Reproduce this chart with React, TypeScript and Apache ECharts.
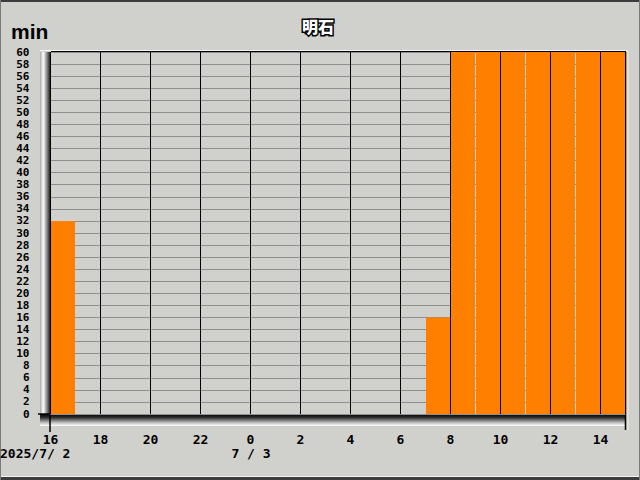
import React, { useEffect, useRef } from "react";
import * as echarts from "echarts";

// hours shown on the axis, starting at 16:00 on 2025/7/2
const hours: number[] = [16, 17, 18, 19, 20, 21, 22, 23, 0, 1, 2, 3, 4, 5, 6, 7, 8, 9, 10, 11, 12, 13, 14];
// minutes per hour
const minutes: number[] = [32, 0, 0, 0, 0, 0, 0, 0, 0, 0, 0, 0, 0, 0, 0, 16, 60, 60, 60, 60, 60, 60, 60];
const title = "明石";
const unit = "min";
const startDate = "2025/7/ 2";
const nextDate = "7 / 3";

const BG = "#d0d0cc";
const MONO = "'DejaVu Sans Mono', 'Liberation Mono', monospace";

export default function App() {
  const ref = useRef<HTMLDivElement>(null);
  useEffect(() => {
    document.body.style.margin = "0";
    const chart = echarts.init(ref.current!, null, { renderer: "svg" });
    const L = 50.5, R = 625.5, T = 52, B = 414;
    chart.setOption({
      animation: false,
      backgroundColor: BG,
      grid: { left: L, right: 640 - R, top: T, bottom: 480 - B, containLabel: false },
      xAxis: [
        {
          type: "category",
          data: hours.map(String),
          boundaryGap: true,
          axisLine: { show: false },
          axisTick: { show: false },
          axisLabel: { show: false },
          splitLine: { show: false },
        },
        {
          type: "value",
          position: "bottom",
          min: 0,
          max: hours.length,
          interval: 2,
          z: 4,
          axisLine: { show: false },
          axisTick: { show: false },
          axisLabel: {
            showMaxLabel: false,
            margin: 19,
            color: "#000",
            fontFamily: MONO,
            fontWeight: "bold",
            fontSize: 13,
            formatter: (v: number) => (Number.isInteger(v) && v < hours.length ? String(hours[v]) : ""),
          },
          splitLine: { show: true, lineStyle: { color: "#000", width: 1 } },
        },
      ],
      yAxis: {
        type: "value",
        min: 0,
        max: 60,
        interval: 2,
        axisLine: { show: false },
        axisTick: { show: false },
        axisLabel: {
          showMinLabel: true,
          showMaxLabel: true,
          hideOverlap: false,
          margin: 21,
          color: "#000",
          fontFamily: MONO,
          fontWeight: "bold",
          fontSize: 11,
          lineHeight: 11,
        },
        splitLine: { show: true, lineStyle: { color: "#8e8e8e", width: 1 } },
      },
      series: [
        {
          type: "bar",
          xAxisIndex: 0,
          data: minutes,
          barWidth: 24,
          itemStyle: { color: "#ff8000" },
        },
      ],
      graphic: [
        // outer frame
        { type: "rect", shape: { x: 0, y: 0, width: 640, height: 2 }, style: { fill: "#3c3c3c" }, silent: true },
        { type: "rect", shape: { x: 0, y: 476, width: 640, height: 1 }, style: { fill: "#f4f4f4" }, silent: true },
        { type: "rect", shape: { x: 0, y: 477, width: 640, height: 3 }, style: { fill: "#3c3c3c" }, silent: true },
        { type: "rect", shape: { x: 0, y: 0, width: 1, height: 480 }, style: { fill: "#7a7a7a" }, silent: true },
        { type: "rect", shape: { x: 639, y: 0, width: 1, height: 480 }, style: { fill: "#7a7a7a" }, silent: true },
        // left wall
        {
          type: "rect",
          shape: { x: 40, y: T, width: 11, height: B - T + 10 },
          style: {
            fill: new echarts.graphic.LinearGradient(0, 0, 1, 0, [
              { offset: 0, color: "#a8a8a8" },
              { offset: 0.3, color: "#ffffff" },
              { offset: 0.7, color: "#707070" },
              { offset: 1, color: "#000000" },
            ]),
          },
          silent: true,
        },
        // floor
        {
          type: "rect",
          shape: { x: 40, y: B, width: 586, height: 12 },
          style: {
            fill: new echarts.graphic.LinearGradient(0, 0, 0, 1, [
              { offset: 0, color: "#000000" },
              { offset: 0.3, color: "#303030" },
              { offset: 0.75, color: "#c8c8c8" },
              { offset: 1, color: "#ffffff" },
            ]),
          },
          silent: true,
        },
        // top highlight and border
        { type: "line", shape: { x1: 40, y1: 50.5, x2: 628, y2: 50.5 }, style: { stroke: "#f4f4f4", lineWidth: 1 }, silent: true },
        { type: "line", shape: { x1: 51, y1: 52, x2: 626, y2: 52 }, style: { stroke: "#000", lineWidth: 2 }, silent: true },
        // right border and highlight
        { type: "line", shape: { x1: 625.5, y1: 52, x2: 625.5, y2: 430 }, style: { stroke: "#000", lineWidth: 1.5 }, silent: true },
        { type: "line", shape: { x1: 628, y1: 51, x2: 628, y2: 430 }, style: { stroke: "#f0f0f0", lineWidth: 1 }, silent: true },
        // origin ticks
        { type: "line", shape: { x1: 38, y1: B, x2: 51, y2: B }, style: { stroke: "#000", lineWidth: 1.5 }, silent: true },
        { type: "line", shape: { x1: 50, y1: B, x2: 50, y2: 432 }, style: { stroke: "#000", lineWidth: 1.5 }, silent: true },
        // title and unit
        {
          type: "text",
          x: 318,
          y: 26,
          style: {
            text: title,
            fill: "#ffffff",
            font: "900 16px 'Noto Sans CJK JP', sans-serif",
            align: "center",
            verticalAlign: "middle",
            stroke: "#000",
            lineWidth: 3,
            shadowColor: "#000",
            shadowOffsetX: 1,
            shadowOffsetY: 1,
          },
          silent: true,
        },
        {
          type: "text",
          x: 11,
          y: 31,
          style: {
            text: unit,
            fill: "#000",
            font: "bold 21px 'Liberation Sans', Arial, sans-serif",
            align: "left",
            verticalAlign: "middle",
          },
          silent: true,
        },
        // dates
        {
          type: "text",
          x: 0,
          y: 453,
          style: { text: startDate, fill: "#000", font: "bold 13px " + MONO, align: "left", verticalAlign: "middle" },
          silent: true,
        },
        {
          type: "text",
          x: 251,
          y: 453,
          style: { text: nextDate, fill: "#000", font: "bold 13px " + MONO, align: "center", verticalAlign: "middle" },
          silent: true,
        },
      ],
    });
    return () => chart.dispose();
  }, []);
  return <div ref={ref} style={{ position: "fixed", left: 0, top: 0, width: 640, height: 480 }} />;
}
